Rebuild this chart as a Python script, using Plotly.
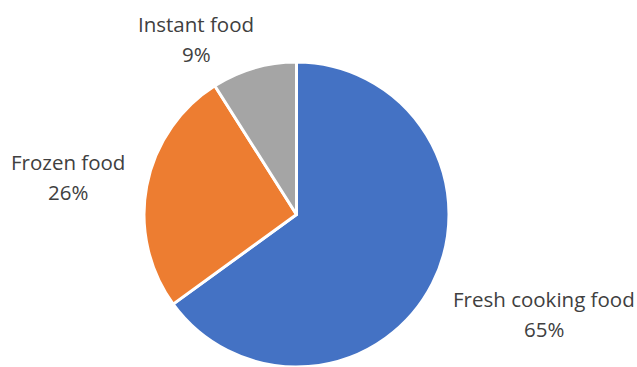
import plotly.graph_objects as go

# Share of food types
labels = ["Fresh cooking food", "Frozen food", "Instant food"]
values = [65, 26, 9]
colors = ["#4472C4", "#ED7D31", "#A5A5A5"]

W, H = 637, 367
cx, cy, r = 296.5, 214.5, 152.5  # pie centre and radius in pixels

fig = go.Figure(go.Pie(
    labels=labels,
    values=values,
    sort=False,
    direction="clockwise",
    rotation=0,
    marker=dict(colors=colors, line=dict(color="white", width=3)),
    textinfo="none",
    hoverinfo="label+percent",
    showlegend=False,
    domain=dict(x=[(cx - r) / W, (cx + r) / W],
                y=[max(0, 1 - (cy + r) / H), 1 - (cy - r) / H]),
))

# Category labels with percentages, placed around the pie
# (centre x, centre y of first line) in pixels
label_pos = {
    "Fresh cooking food": (544, 299),
    "Frozen food": (68, 162),
    "Instant food": (196, 24),
}
line_gap = 30
font = dict(family="Open Sans", size=20.5, color="#404040")
total = sum(values)
for lab, val in zip(labels, values):
    x, y = label_pos[lab]
    for i, txt in enumerate([lab, f"{round(100 * val / total)}%"]):
        fig.add_annotation(
            x=x / W, y=1 - (y + i * line_gap) / H, xref="paper", yref="paper",
            text=txt, showarrow=False, align="center", font=font,
            xanchor="center", yanchor="middle",
        )

fig.update_layout(
    width=W, height=H,
    margin=dict(l=0, r=0, t=0, b=0),
    paper_bgcolor="white", plot_bgcolor="white",
)

fig.write_html("out.html")
